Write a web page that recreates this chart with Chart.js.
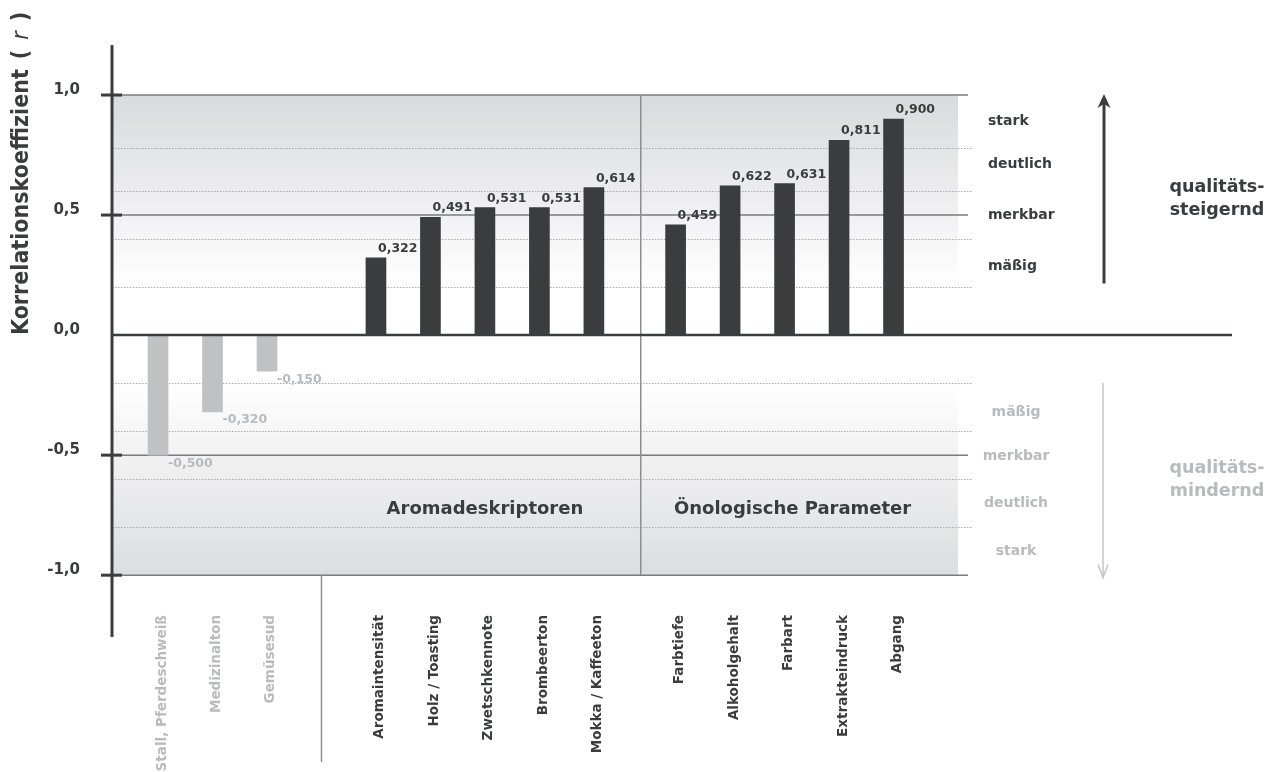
<!DOCTYPE html>
<html lang="de">
<head>
<meta charset="utf-8">
<title>Korrelationskoeffizient</title>
<script src="https://cdn.jsdelivr.net/npm/chart.js@4.4.1/dist/chart.umd.min.js"></script>
<style>
  html, body { margin: 0; padding: 0; background: #ffffff; }
  #wrap { width: 1275px; height: 772px; position: relative; }
</style>
</head>
<body>
<div id="wrap"><canvas id="chart" width="1275" height="772"></canvas></div>
<script>
// Kategorien und Korrelationskoeffizienten
const categories = [
  'Stall, Pferdeschweiß', 'Medizinalton', 'Gemüsesud',
  'Aromaintensität', 'Holz / Toasting', 'Zwetschkennote', 'Brombeerton', 'Mokka / Kaffeeton',
  'Farbtiefe', 'Alkoholgehalt', 'Farbart', 'Extrakteindruck', 'Abgang'
];
const correlations = [
  -0.500, -0.320, -0.150,
  0.322, 0.491, 0.531, 0.531, 0.614,
  0.459, 0.622, 0.631, 0.811, 0.900
];
// Gruppenzugehörigkeit je Kategorie
const groupOf = [0, 0, 0, 1, 1, 1, 1, 1, 2, 2, 2, 2, 2];
const groupNames = ['', 'Aromadeskriptoren', 'Önologische Parameter'];

// Achsenbeschriftung
const yTickValues = [-1, -0.5, 0, 0.5, 1];
const yTickLabels = ['-1,0', '-0,5', '0,0', '0,5', '1,0'];

// Stärke-Stufen rechts neben dem Diagramm
const strengthUp = ['stark', 'deutlich', 'merkbar', 'mäßig'];
const strengthDown = ['mäßig', 'merkbar', 'deutlich', 'stark'];
const directionUp = ['qualitäts-', 'steigernd'];
const directionDown = ['qualitäts-', 'mindernd'];

// ---- Layout ----
const FONT = '"DejaVu Sans", Verdana, sans-serif';
const TITLE_FONT = '"DejaVu Sans Condensed", "DejaVu Sans", sans-serif';
const DARK = '#3b3c3e';
const LIGHT = '#c0c1c3';
const LIGHT_TEXT = '#b9babc';
const groupGapBefore = [0, 1, 0.5];           // zusätzlicher Abstand vor jeder Gruppe (in Slots)
const positions = categories.map((_, i) => {
  let gap = 0;
  for (let g = 0; g <= groupOf[i]; g++) gap += groupGapBefore[g];
  return i + gap;
});
const dividerAfterGroup0 = 3.0;                // Trennlinie unter der Achse
const dividerAfterGroup1 = 8.86;               // Trennlinie im Diagramm
const strengthUpAt = [0.89, 0.71, 0.5, 0.285];
const strengthDownAt = [-0.32, -0.505, -0.70, -0.90];
const fmt = v => v.toFixed(3).replace('.', ',');

const decorations = {
  id: 'decorations',
  beforeDatasetsDraw(chart) {
    const { ctx, scales: { x, y } } = chart;
    const L = x.left;
    ctx.save();
    // Hintergrundflächen
    const bandR = 958;
    let g = ctx.createLinearGradient(0, y.getPixelForValue(1), 0, y.getPixelForValue(0.2));
    g.addColorStop(0, '#d9dadd');
    g.addColorStop(0.55, '#eeeef0');
    g.addColorStop(1, '#ffffff');
    ctx.fillStyle = g;
    ctx.fillRect(L, y.getPixelForValue(1), bandR - L, y.getPixelForValue(0.2) - y.getPixelForValue(1));
    g = ctx.createLinearGradient(0, y.getPixelForValue(-0.2), 0, y.getPixelForValue(-1));
    g.addColorStop(0, '#ffffff');
    g.addColorStop(0.45, '#efeff0');
    g.addColorStop(1, '#dcdde0');
    ctx.fillStyle = g;
    ctx.fillRect(L, y.getPixelForValue(-0.2), bandR - L, y.getPixelForValue(-1) - y.getPixelForValue(-0.2));

    // gepunktete Hilfslinien
    ctx.strokeStyle = '#a9aaac';
    ctx.lineWidth = 1;
    ctx.setLineDash([1.5, 1.5]);
    [0.78, 0.6, 0.4, 0.2, -0.2, -0.4, -0.6, -0.8].forEach(v => {
      const py = Math.round(y.getPixelForValue(v)) + 0.5;
      ctx.beginPath(); ctx.moveTo(L, py); ctx.lineTo(972, py); ctx.stroke();
    });
    ctx.setLineDash([]);
    // durchgezogene Linien bei ±0,5 und ±1,0
    ctx.strokeStyle = '#7a7b7d';
    ctx.lineWidth = 1.5;
    [1, 0.5, -0.5, -1].forEach(v => {
      const py = y.getPixelForValue(v);
      ctx.beginPath(); ctx.moveTo(L, py); ctx.lineTo(968, py); ctx.stroke();
    });
    // Trennlinien zwischen den Gruppen
    ctx.strokeStyle = '#8c8d8f';
    ctx.lineWidth = 1.5;
    let px = x.getPixelForValue(dividerAfterGroup1);
    ctx.beginPath(); ctx.moveTo(px, y.getPixelForValue(1)); ctx.lineTo(px, y.getPixelForValue(-1)); ctx.stroke();
    px = x.getPixelForValue(dividerAfterGroup0);
    ctx.beginPath(); ctx.moveTo(px, y.getPixelForValue(-1)); ctx.lineTo(px, 762); ctx.stroke();

    // Gruppennamen
    ctx.fillStyle = DARK;
    ctx.font = 'bold 18px ' + FONT;
    ctx.textAlign = 'center';
    ctx.textBaseline = 'middle';
    [1, 2].forEach(gi => {
      const idx = positions.filter((_, i) => groupOf[i] === gi);
      const cx = (x.getPixelForValue(idx[0]) + x.getPixelForValue(idx[idx.length - 1])) / 2;
      ctx.fillText(groupNames[gi], cx + (gi === 2 ? 8 : 0), y.getPixelForValue(-0.725));
    });
    ctx.restore();
  },
  afterDatasetsDraw(chart) {
    const { ctx, scales: { x, y } } = chart;
    const L = x.left;
    ctx.save();
    // Nulllinie
    ctx.strokeStyle = DARK;
    ctx.lineWidth = 2.5;
    const y0 = y.getPixelForValue(0);
    ctx.beginPath(); ctx.moveTo(L, y0); ctx.lineTo(1232, y0); ctx.stroke();
    // y-Achse mit Strichmarken
    ctx.lineWidth = 3;
    ctx.beginPath(); ctx.moveTo(L, 45); ctx.lineTo(L, 637); ctx.stroke();
    yTickValues.forEach(v => {
      if (v === 0) return;
      const py = y.getPixelForValue(v);
      ctx.beginPath(); ctx.moveTo(L - 11, py); ctx.lineTo(L + 10, py); ctx.stroke();
    });

    // Wertebeschriftung der Balken
    ctx.font = 'bold 12.5px ' + FONT;
    const meta = chart.getDatasetMeta(0);
    meta.data.forEach((bar, i) => {
      const v = correlations[i];
      if (v >= 0) {
        ctx.fillStyle = DARK;
        ctx.textAlign = 'left';
        ctx.textBaseline = 'alphabetic';
        ctx.fillText(fmt(v), bar.x + 2, bar.y - 6);
      } else {
        ctx.fillStyle = LIGHT_TEXT;
        ctx.textAlign = 'left';
        ctx.textBaseline = 'top';
        ctx.fillText(fmt(v), bar.x + 10, bar.y + 2);
      }
    });

    // Stärke-Stufen
    ctx.font = 'bold 14px ' + FONT;
    ctx.textBaseline = 'middle';
    ctx.fillStyle = DARK;
    ctx.textAlign = 'left';
    strengthUp.forEach((t, i) => ctx.fillText(t, 988, y.getPixelForValue(strengthUpAt[i])));
    ctx.fillStyle = LIGHT_TEXT;
    ctx.textAlign = 'center';
    strengthDown.forEach((t, i) => ctx.fillText(t, 1016, y.getPixelForValue(strengthDownAt[i])));

    // Richtungspfeile
    const ax = 1104;
    ctx.strokeStyle = DARK;
    ctx.fillStyle = DARK;
    ctx.lineWidth = 3;
    const upTop = y.getPixelForValue(1), upBot = y.getPixelForValue(0.215);
    ctx.beginPath(); ctx.moveTo(ax, upBot); ctx.lineTo(ax, upTop + 8); ctx.stroke();
    ctx.beginPath();
    ctx.moveTo(ax, upTop - 1);
    ctx.lineTo(ax + 6.5, upTop + 13);
    ctx.lineTo(ax, upTop + 9);
    ctx.lineTo(ax - 6.5, upTop + 13);
    ctx.closePath(); ctx.fill();

    ctx.strokeStyle = '#c4c5c7';
    ctx.lineWidth = 1.5;
    const dnTop = y.getPixelForValue(-0.2), dnBot = y.getPixelForValue(-1.01);
    ctx.beginPath(); ctx.moveTo(ax - 1, dnTop); ctx.lineTo(ax - 1, dnBot); ctx.stroke();
    ctx.beginPath();
    ctx.moveTo(ax - 6, dnBot - 13); ctx.lineTo(ax - 1, dnBot); ctx.lineTo(ax + 4, dnBot - 13);
    ctx.stroke();

    // Richtungstexte
    ctx.font = 'bold 17.5px ' + FONT;
    ctx.textAlign = 'center';
    ctx.fillStyle = DARK;
    directionUp.forEach((t, i) => ctx.fillText(t, 1217, 187 + i * 23));
    ctx.fillStyle = LIGHT_TEXT;
    directionDown.forEach((t, i) => ctx.fillText(t, 1217, 468 + i * 23));

    // Achsentitel (senkrecht)
    ctx.translate(22, 335);
    ctx.rotate(-Math.PI / 2);
    ctx.fillStyle = DARK;
    ctx.textAlign = 'left';
    ctx.textBaseline = 'middle';
    ctx.font = 'bold 23px ' + TITLE_FONT;
    let tx = 0;
    const main = 'Korrelationskoeffizient';
    ctx.fillText(main, tx, 0);
    tx += ctx.measureText(main).width + 10;
    ctx.fillText('(', tx, 0);
    tx += ctx.measureText('(').width + 10;
    ctx.font = 'italic 23px ' + TITLE_FONT;
    ctx.fillText('r', tx, 0);
    tx += ctx.measureText('r').width + 10;
    ctx.font = 'bold 23px ' + TITLE_FONT;
    ctx.fillText(')', tx, 0);
    ctx.restore();
  }
};

new Chart(document.getElementById('chart'), {
  type: 'bar',
  data: {
    datasets: [{
      data: correlations.map((v, i) => ({ x: positions[i], y: v })),
      backgroundColor: c => (c.raw && c.raw.y < 0 ? LIGHT : DARK),
      borderWidth: 0,
      barThickness: 20
    }]
  },
  options: {
    responsive: false,
    animation: false,
    devicePixelRatio: 1,
    layout: { padding: { top: 47, right: 315, left: 0, bottom: 0 } },
    plugins: { legend: { display: false }, tooltip: { enabled: false } },
    scales: {
      x: {
        type: 'linear',
        offset: false,
        min: -0.845,
        max: 14.72,
        grid: { display: false, drawTicks: false, offset: false },
        border: { display: false },
        afterFit: s => { s.height = 168; },
        afterBuildTicks: s => { s.ticks = positions.map(p => ({ value: p })); },
        ticks: {
          autoSkip: false,
          minRotation: 90,
          maxRotation: 90,
          padding: 11,
          labelOffset: 4,
          font: { family: FONT, weight: 'bold', size: 13.5 },
          color: c => (correlations[c.index] < 0 ? LIGHT_TEXT : DARK),
          callback: (v, i) => categories[i]
        }
      },
      y: {
        min: -1.12,
        max: 1.2,
        grid: { display: false, drawTicks: false },
        border: { display: false },
        afterFit: s => { s.width = 112; },
        afterBuildTicks: s => { s.ticks = yTickValues.map(v => ({ value: v })); },
        ticks: {
          padding: 32,
          labelOffset: -5,
          font: { family: FONT, weight: 'bold', size: 15 },
          color: DARK,
          callback: v => yTickLabels[yTickValues.indexOf(v)]
        }
      }
    }
  },
  plugins: [decorations]
});
</script>
</body>
</html>
